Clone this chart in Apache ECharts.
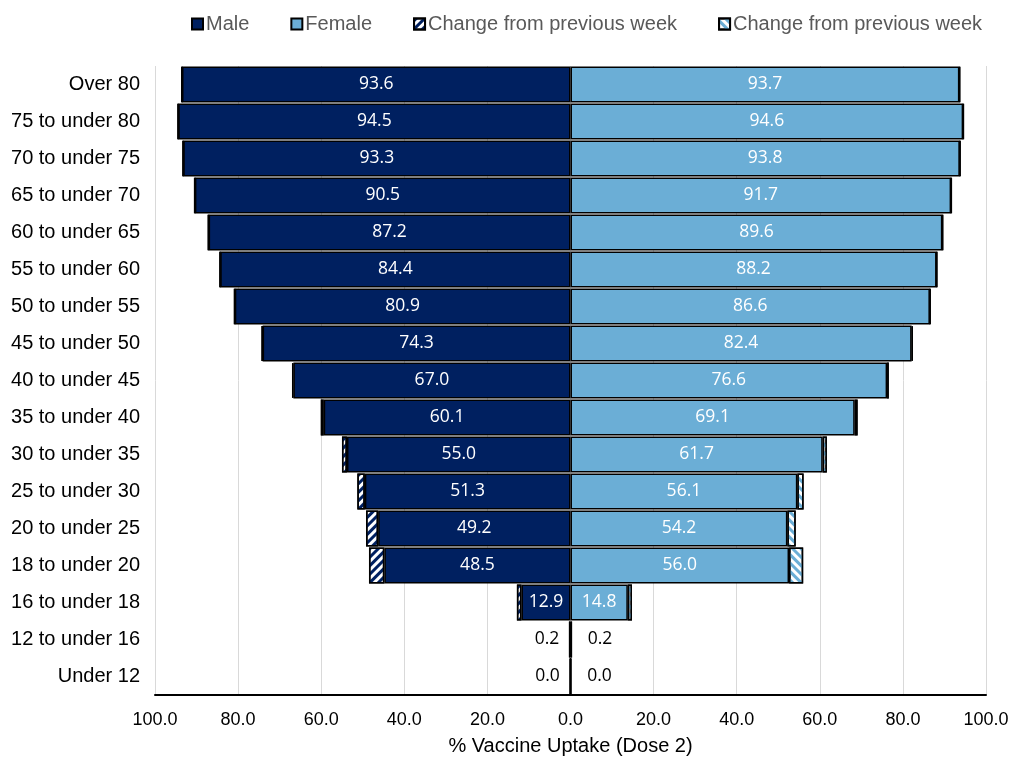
<!DOCTYPE html>
<html>
<head>
<meta charset="utf-8">
<script src="https://cdn.jsdelivr.net/npm/echarts@6/dist/echarts.min.js"></script>
<style>html,body{margin:0;padding:0;background:#fff}#c{width:1014px;height:758px}</style>
</head>
<body>
<div id="c"></div>
<script>
const categories = ["Over 80","75 to under 80","70 to under 75","65 to under 70","60 to under 65","55 to under 60","50 to under 55","45 to under 50","40 to under 45","35 to under 40","30 to under 35","25 to under 30","20 to under 25","18 to under 20","16 to under 18","12 to under 16","Under 12"];
const maleTotal   = [93.6,94.5,93.3,90.5,87.2,84.4,80.9,74.3,67.0,60.1,55.0,51.3,49.2,48.5,12.9,0.2,0.0];
const maleChange  = [0.1,0.1,0.1,0.1,0.1,0.1,0.1,0.2,0.3,0.7,1.2,1.8,2.9,3.7,1.1,0.0,0.0];
const femaleTotal = [93.7,94.6,93.8,91.7,89.6,88.2,86.6,82.4,76.6,69.1,61.7,56.1,54.2,56.0,14.8,0.2,0.0];
const femaleChange= [0.1,0.1,0.1,0.1,0.1,0.1,0.1,0.3,0.4,0.7,1.0,1.5,2.0,3.4,1.0,0.0,0.0];
const xTicks = [-100,-80,-60,-40,-20,0,20,40,60,80,100];

const MALE = '#002060', FEMALE = '#6BAED6';
const labelFont = '"Open Sans", "Noto Sans", sans-serif';
const axisFont = '"Liberation Sans", Arial, sans-serif';

function solidData(total, change, sign) {
  return total.map((t, i) => {
    const v = +(sign * (t - change[i])).toFixed(2);
    const item = { value: v };
    if (t < 5) {
      item.label = { position: sign < 0 ? 'left' : 'right', color: '#000', distance: sign < 0 ? 10 : 16 };
    }
    return item;
  });
}

const option = {
  animation: false,
  legend: {
    top: 9, left: 186,
    itemWidth: 11, itemHeight: 11, itemGap: 41,
    icon: 'rect',
    textStyle: { fontFamily: axisFont, fontSize: 20, color: '#595959', padding: [0,0,0,-2] },
    formatter: n => n.trim(),
    data: ['Male', 'Female', 'Change from previous week', 'Change from previous week ']
  },
  grid: { left: 155, right: 28, top: 66, bottom: 63, containLabel: false, outerBoundsMode: 'none' },
  xAxis: {
    type: 'value', min: -100, max: 100, interval: 20,
    axisLine: { show: true, lineStyle: { color: '#000', width: 2 } },
    axisTick: { show: false },
    splitLine: { show: true, lineStyle: { color: '#d9d9d9', width: 1 } },
    axisLabel: { formatter: v => Math.abs(v).toFixed(1), fontFamily: axisFont, fontSize: 18, color: '#000', margin: 16 },
    name: '% Vaccine Uptake (Dose 2)', nameLocation: 'middle', nameGap: 41,
    nameTextStyle: { fontFamily: axisFont, fontSize: 20, color: '#000' }
  },
  yAxis: {
    type: 'category', data: categories, inverse: true,
    axisLine: { show: false }, axisTick: { show: false },
    axisLabel: { fontFamily: axisFont, fontSize: 20, color: '#000', margin: 15 }
  },
  series: [
    {
      name: 'Male', type: 'bar', stack: 'male', barGap: '-100%', barCategoryGap: '3%',
      data: solidData(maleTotal, maleChange, -1),
      itemStyle: { color: MALE, borderColor: '#000', borderWidth: 1.5 },
      label: { show: true, position: 'inside', color: '#fff', fontFamily: labelFont, fontSize: 17.5,
        formatter: p => maleTotal[p.dataIndex].toFixed(1) },
      z: 3
    },
    {
      name: 'Change from previous week', type: 'bar', stack: 'male', barGap: '-100%', barCategoryGap: '3%',
      data: maleChange.map(v => -v),
      itemStyle: { color: '#fff', borderColor: '#000', borderWidth: 1.5,
        decal: { symbol: 'rect', symbolSize: 1, dashArrayX: [1, 0], dashArrayY: [3, 3], rotation: -Math.PI / 4, color: MALE } },
      z: 3
    },
    {
      name: 'Female', type: 'bar', stack: 'female', barGap: '-100%', barCategoryGap: '3%',
      data: solidData(femaleTotal, femaleChange, 1),
      itemStyle: { color: FEMALE, borderColor: '#000', borderWidth: 1.5 },
      label: { show: true, position: 'inside', color: '#fff', fontFamily: labelFont, fontSize: 17.5,
        formatter: p => femaleTotal[p.dataIndex].toFixed(1) },
      z: 3
    },
    {
      name: 'Change from previous week ', type: 'bar', stack: 'female', barGap: '-100%', barCategoryGap: '3%',
      data: femaleChange.slice(),
      itemStyle: { color: '#fff', borderColor: '#000', borderWidth: 1.5,
        decal: { symbol: 'rect', symbolSize: 1, dashArrayX: [1, 0], dashArrayY: [3, 3], rotation: Math.PI / 4, color: FEMALE } },
      z: 3
    }
  ]
};
const chart = echarts.init(document.getElementById('c'), null, { renderer: 'canvas' });
chart.setOption(option);
</script>
</body>
</html>
